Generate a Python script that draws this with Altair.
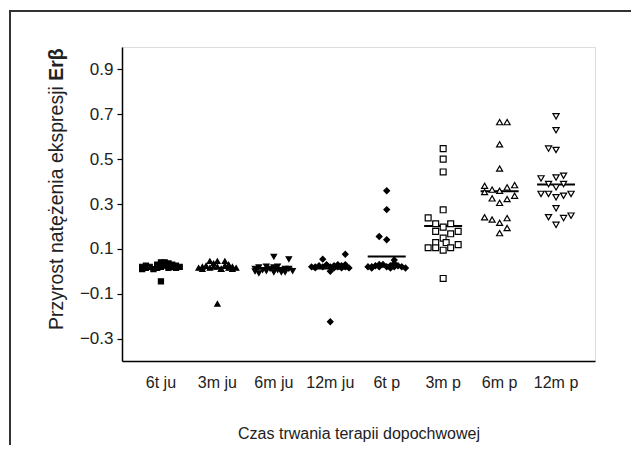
import altair as alt
import pandas as pd

groups = ["6t ju", "3m ju", "6m ju", "12m ju", "6t p", "3m p", "6m p", "12m p"]
shapes = ["square", "triangle-up", "triangle-down", "diamond", "diamond", "square", "triangle-up", "triangle-down"]
fills = ["black", "black", "black", "black", "black", "white", "white", "white"]
sizes = [26, 38, 38, 36, 36, 26, 38, 38]

v_6t_ju = [0.02, 0.01, 0.025, 0.015, 0.02, 0.01, 0.03, 0.015, 0.04, 0.02, 0.04, 0.025, 0.035, 0.015, 0.03, 0.02, 0.025, 0.015, 0.02, -0.045]
c_6t_ju = [-2.5, -2.5, -2, -2, -1.5, -1, -0.5, -0.5, 0, 0, 0.5, 0.5, 1, 1, 1.5, 1.5, 2, 2, 2.5, 0]

v_3m_ju = [0.015, 0.02, 0.01, 0.025, 0.045, 0.015, 0.035, 0.045, 0.02, 0.01, 0.045, 0.025, 0.015, 0.03, 0.02, 0.01, 0.015, 0.02, 0.01, -0.145]
c_3m_ju = [-2.5, -2, -2, -1.5, -1, -1, -0.5, 0, 0, 0.5, 1, 1, 1.5, 1.5, 2, 2, 2.5, -0.5, 0.5, 0]

v_6m_ju = [0.012, 0.0, 0.018, 0.006, 0.022, 0.002, 0.012, 0.065, 0.018, -0.004, 0.022, 0.006, 0.012, -0.004, 0.054, 0.012, 0.002, -0.008, 0.006, -0.004]
c_6m_ju = [-2.5, -2.5, -2, -1.5, -1, -1, -0.5, 0, 0, 0, 0.5, 1, 1.5, 1.5, 2, 2, 2.5, -2, 0.5, 1]

v_12m_ju = [0.02, 0.015, 0.025, 0.054, 0.02, 0.03, 0.0, 0.02, 0.025, 0.015, 0.03, 0.02, 0.025, 0.015, 0.03, 0.02, 0.076, 0.015, 0.02, -0.225]
c_12m_ju = [-2.5, -2, -1.5, -1, -1, -0.5, 0, 0, 0.5, 0.5, 1, 1, 1.5, 1.5, 2, 2, 2, 2.5, -2, 0]

v_6t_p = [0.359, 0.275, 0.155, 0.141, 0.02, 0.015, 0.025, 0.02, 0.03, 0.02, 0.025, 0.015, 0.03, 0.02, 0.05, 0.035, 0.025, 0.02, 0.015, 0.02]
c_6t_p = [0, 0, -1, 0, -2.5, -2, -1.5, -1, -0.5, 0, 0.5, 0.5, -1, 1, 1, 1, 1.5, 2, 2.5, -2]

v_3m_p = [0.547, 0.50, 0.443, 0.274, 0.238, 0.212, 0.212, 0.197, 0.178, 0.167, 0.178, 0.148, 0.128, 0.128, 0.105, 0.105, 0.094, 0.105, 0.119, -0.032]
c_3m_p = [0, 0, 0, 0, -2, -1, 1, 0, -1, 1, 2, 0, -1, 0.4, -2, -1, 0, 1, 2, 0]

v_6m_p = [0.665, 0.665, 0.566, 0.458, 0.381, 0.364, 0.359, 0.374, 0.384, 0.353, 0.325, 0.322, 0.337, 0.305, 0.241, 0.231, 0.216, 0.237, 0.193, 0.17]
c_6m_p = [0, 1, 0, 0, -2, -1, 0, 1, 2, -2, -1, 1, 2, 0, -2, -1, 0, 1, 1, 0]

v_12m_p = [0.691, 0.629, 0.547, 0.541, 0.414, 0.418, 0.426, 0.389, 0.374, 0.389, 0.345, 0.345, 0.33, 0.337, 0.345, 0.281, 0.241, 0.237, 0.248, 0.207]
c_12m_p = [0, 0, -1, 0, -2, 0, 1, -1, 0, 1, -2, -1, 0, 1, 2, 0, -1, 1, 2, 0]

y_ticks = [-0.3, -0.1, 0.1, 0.3, 0.5, 0.7, 0.9]
y_title_main = "Przyrost natężenia ekspresji "
y_title_bold = "Erβ"
x_title = "Czas trwania terapii dopochwowej"

all_v = [v_6t_ju, v_3m_ju, v_6m_ju, v_12m_ju, v_6t_p, v_3m_p, v_6m_p, v_12m_p]
all_c = [c_6t_ju, c_3m_ju, c_6m_ju, c_12m_ju, c_6t_p, c_3m_p, c_6m_p, c_12m_p]

rows = []
for g, vs, cs in zip(groups, all_v, all_c):
    for v, c in zip(vs, cs):
        rows.append({"group": g, "value": v, "col": c})
df = pd.DataFrame(rows)

W, H = 473, 314
FONT = "Liberation Sans"
TITLE_SIZE = 19.5

xscale = alt.Scale(domain=groups, paddingInner=0, paddingOuter=0.19)
yscale = alt.Scale(domain=[-0.4, 1.0], nice=False, zero=False)

x_enc = alt.X(
    "group:N", sort=groups, scale=xscale,
    axis=alt.Axis(
        title=x_title, labelAngle=0, labelAlign="center", ticks=False, labelPadding=21,
        labelFontSize=16, labelFont=FONT, labelColor="#222",
        titleFontSize=16, titleFont=FONT, titleFontWeight="normal", titleColor="#222",
        titlePadding=35, domainColor="black", domainWidth=1.5, grid=False,
    ),
)
y_enc = alt.Y(
    "value:Q", scale=yscale,
    axis=alt.Axis(
        title=None, values=y_ticks, format=".1f", labelFontSize=17, labelFont=FONT,
        labelColor="#222", tickSize=5, tickColor="black", tickWidth=1.2,
        domainColor="black", domainWidth=1.5, grid=False, labelPadding=4,
    ),
)

points = alt.Chart(df).mark_point(filled=True, opacity=1, strokeWidth=1.2).encode(
    x=x_enc,
    xOffset=alt.XOffset("col:Q", scale=alt.Scale(domain=[-3.76, 3.76], nice=False, zero=False)),
    y=y_enc,
    shape=alt.Shape("group:N", scale=alt.Scale(domain=groups, range=shapes), legend=None),
    fill=alt.Fill("group:N", scale=alt.Scale(domain=groups, range=fills), legend=None),
    size=alt.Size("group:N", scale=alt.Scale(domain=groups, range=sizes), legend=None),
    stroke=alt.value("black"),
)

means = alt.Chart(df).mark_tick(color="black", thickness=2, size=38, opacity=1).encode(
    x=alt.X("group:N", sort=groups, scale=xscale),
    y=alt.Y("mean(value):Q", scale=yscale),
)

main_len = 12.782 * TITLE_SIZE

title_main = alt.Chart(pd.DataFrame({"t": [y_title_main]})).mark_text(
    angle=270, align="left", baseline="middle", font=FONT, fontSize=TITLE_SIZE, color="#222"
).encode(text="t:N", x=alt.value(-65), y=alt.value(283))

title_bold = alt.Chart(pd.DataFrame({"t": [y_title_bold]})).mark_text(
    angle=270, align="left", baseline="middle", font=FONT, fontSize=TITLE_SIZE, fontWeight="bold", color="#222"
).encode(text="t:N", x=alt.value(-65), y=alt.value(283 - main_len))

frame = alt.Chart(pd.DataFrame({"a": [0]})).mark_rect(
    fillOpacity=0, stroke="#333", strokeWidth=2
).encode(x=alt.value(-112), x2=alt.value(560), y=alt.value(-36), y2=alt.value(460))

chart = alt.layer(frame, means, points, title_main, title_bold).properties(
    width=W, height=H,
    autosize=alt.AutoSizeParams(type="none"),
    padding={"left": 114, "top": 39, "right": 36, "bottom": 84},
).configure_view(stroke=None).configure(background="white")

chart.save("out.html", embed_options={"renderer": "svg", "actions": False})
